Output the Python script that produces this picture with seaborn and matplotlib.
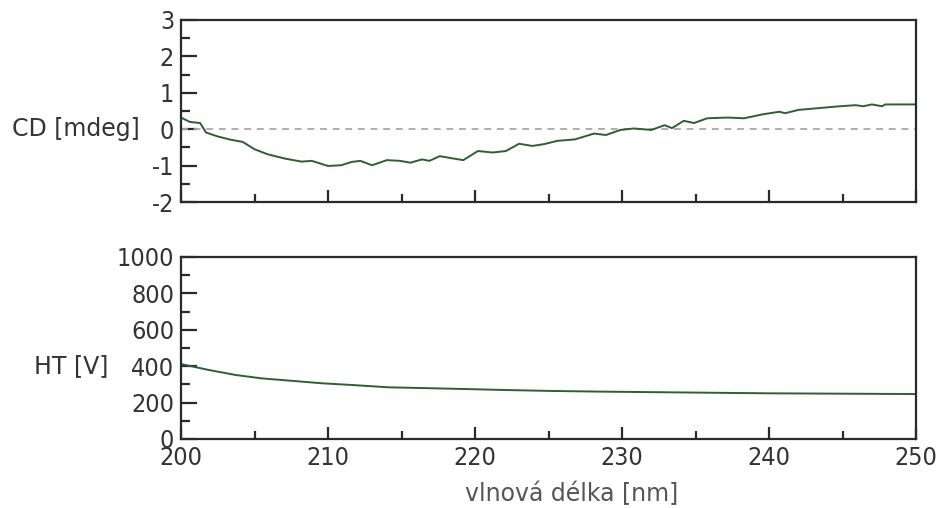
import numpy as np
import pandas as pd
import matplotlib
matplotlib.use("Agg")
import matplotlib.pyplot as plt
from matplotlib.ticker import MultipleLocator
import seaborn as sns

# ---- data ----
cd_wl = [200.0, 200.6, 201.3, 201.7, 202.5, 203.4, 204.2, 205.0, 205.9, 207.1,
         208.2, 208.9, 210.0, 210.9, 211.6, 212.2, 213.0, 214.0, 214.9, 215.6,
         216.4, 216.9, 217.6, 218.3, 219.2, 220.2, 221.2, 222.1, 223.0, 223.9,
         224.7, 225.6, 226.8, 228.1, 228.9, 229.9, 230.8, 232.0, 232.9, 233.4,
         234.2, 234.9, 235.8, 237.2, 238.3, 239.6, 240.7, 241.1, 242.0, 243.4,
         244.8, 245.9, 246.4, 247.0, 247.7, 247.9, 250.0]
cd_val = [0.32, 0.20, 0.17, -0.09, -0.20, -0.29, -0.35, -0.55, -0.69, -0.81,
          -0.89, -0.87, -1.01, -0.99, -0.90, -0.87, -0.99, -0.85, -0.87, -0.92,
          -0.83, -0.87, -0.74, -0.79, -0.85, -0.60, -0.64, -0.60, -0.40, -0.46,
          -0.41, -0.32, -0.28, -0.12, -0.16, -0.02, 0.02, -0.02, 0.11, 0.03,
          0.23, 0.17, 0.30, 0.32, 0.30, 0.41, 0.48, 0.44, 0.53, 0.58,
          0.63, 0.66, 0.63, 0.68, 0.63, 0.68, 0.68]

ht_wl = [200.0, 201.9, 203.7, 205.5, 207.5, 209.6, 211.6, 214.1, 217.5, 222.2,
         225.2, 228.9, 240.0, 250.0]
ht_val = [412, 379, 352, 333, 320, 306, 297, 284, 278, 269,
          264, 260, 251, 247]

cd_ylabel = "CD [mdeg]"
ht_ylabel = "HT [V]"
x_label = "vlnová délka [nm]"

# ---- style ----
sns.set_style("white")
plt.rcParams['font.family'] = ['DejaVu Sans']
plt.rcParams['axes.unicode_minus'] = False

line_color = "#2f5e34"
text_color = "#333333"
spine_color = "#2a2a2a"

fig = plt.figure(figsize=(9.42, 5.08), dpi=100)
ax1 = fig.add_axes([181/942, 1-202/508, 735/942, 182/508])
ax2 = fig.add_axes([181/942, 1-439/508, 735/942, 182/508])

cd_df = pd.DataFrame({"wl": cd_wl, "cd": cd_val})
ht_df = pd.DataFrame({"wl": ht_wl, "ht": ht_val})

sns.lineplot(data=cd_df, x="wl", y="cd", ax=ax1, color=line_color, lw=1.4)
sns.lineplot(data=ht_df, x="wl", y="ht", ax=ax2, color=line_color, lw=1.4)

ax1.axhline(0, color="#a8a8a8", lw=1.3, dashes=(3.8, 3.2), zorder=1)

ax1.set_xlim(200, 250)
ax1.set_ylim(-2, 3)
ax2.set_xlim(200, 250)
ax2.set_ylim(0, 1000)

ax1.yaxis.set_major_locator(MultipleLocator(1))
ax1.yaxis.set_minor_locator(MultipleLocator(0.5))
ax2.yaxis.set_major_locator(MultipleLocator(200))
ax2.yaxis.set_minor_locator(MultipleLocator(100))
for ax in (ax1, ax2):
    ax.xaxis.set_major_locator(MultipleLocator(10))
    ax.xaxis.set_minor_locator(MultipleLocator(5))
    for s in ax.spines.values():
        s.set_color(spine_color)
        s.set_linewidth(1.6)
    ax.tick_params(axis="y", which="major", direction="in", length=11.5, width=1.6,
                   color=spine_color, left=True, pad=5, labelsize=18, labelcolor=text_color)
    ax.tick_params(axis="y", which="minor", direction="in", length=6.5, width=1.6,
                   color=spine_color, left=True)
    ax.tick_params(axis="x", which="major", direction="in", length=8.5, width=1.6,
                   color=spine_color, bottom=True, pad=5, labelsize=18, labelcolor=text_color)
    ax.tick_params(axis="x", which="minor", direction="in", length=5.5, width=1.6,
                   color=spine_color, bottom=True)
    for lab in ax.get_xticklabels() + ax.get_yticklabels():
        lab.set_fontstretch("condensed")
    ax.set_xlabel("")

ax1.tick_params(axis="x", which="both", labelbottom=False)

ax1.set_ylabel(cd_ylabel, rotation=0, ha="right", va="center", fontsize=17,
               color=text_color)
ax1.yaxis.set_label_coords(-0.056, 0.4)
ax2.set_ylabel(ht_ylabel, rotation=0, ha="right", va="center", fontsize=17,
               color=text_color)
ax2.yaxis.set_label_coords(-0.099, 0.4)

ax2.set_xlabel(x_label, fontsize=17, color="#555555")
ax2.xaxis.set_label_coords(0.532, -0.30)
ax2.xaxis.label.set_va("center")

fig.savefig("out.png", dpi=100)
